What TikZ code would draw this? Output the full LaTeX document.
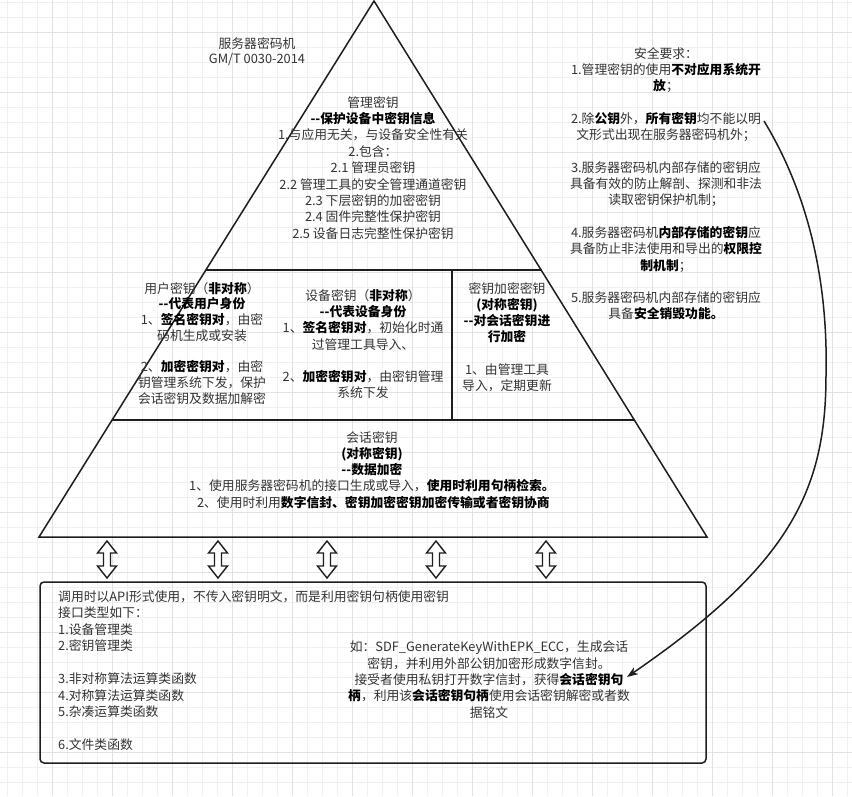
\documentclass[tikz,border=0pt]{standalone}
\usepackage{fontspec}
\setmainfont{Noto Sans CJK SC}
\usetikzlibrary{arrows.meta}
\definecolor{ln}{HTML}{1E1E1E}
\definecolor{tc}{HTML}{333333}
\definecolor{gmin}{HTML}{F0F0F0}
\definecolor{gmaj}{HTML}{E2E2E2}
\tikzset{
  txt/.style={font=\fontsize{12.8}{16.3}\selectfont, align=center, inner sep=0pt, text=tc, anchor=north},
  txtl/.style={font=\fontsize{12.8}{16.5}\selectfont, align=left, inner sep=0pt, text=tc, anchor=north west},
  edge/.style={draw=ln, line width=1.5pt, line join=miter},
  dbl/.style={draw=ln, line width=1.4pt, fill=white, line join=miter},
  gridminor/.style={draw=gmin, line width=0.8pt},
  gridmajor/.style={draw=gmaj, line width=1pt},
}
\newcommand{\B}[1]{\textbf{\color{black}#1}}
\begin{document}
\begin{tikzpicture}[x=1pt,y=-1pt]
\useasboundingbox (0,0) rectangle (852,796);
\fill[white] (0,0) rectangle (852,796);
% grid
\foreach \i in {0,...,56} {\draw[gridminor] ({7.5+15*\i},0) -- ({7.5+15*\i},796);}
\foreach \i in {0,...,53} {\draw[gridminor] (0,{2+15*\i}) -- (852,{2+15*\i});}
\foreach \i in {0,...,14} {\draw[gridmajor] ({52.5+60*\i},0) -- ({52.5+60*\i},796);}
\foreach \i in {0,...,13} {\draw[gridmajor] (0,{32+60*\i}) -- (852,{32+60*\i});}

% pyramid
\coordinate (apex) at (374,1);
\coordinate (bl) at (39,537);
\coordinate (br) at (707,537);
\draw[edge] (apex) -- (br) -- (bl) -- cycle;
\coordinate (l1) at (206,270);
\coordinate (r1) at (542,270);
\coordinate (l2) at (112,420);
\coordinate (r2) at (635,420);
\coordinate (vt) at (452,270);
\coordinate (vb) at (452,420);
\draw[edge] (l1) -- (r1);
\draw[edge] (l2) -- (r2);
\draw[edge] (vt) -- (vb);

% texts in pyramid
\node[txt, font=\fontsize{12.8}{15}\selectfont] (title) at (257,37.5) {服务器密码机\\GM/T 0030-2014};
\node[txt, font=\fontsize{12.8}{16.4}\selectfont] (mgmt) at (373,96) {管理密钥\\
\B{-{}-保护设备中密钥信息}\\
1.与应用无关，与设备安全性有关\\
2.包含：\\
2.1 管理员密钥\\
2.2 管理工具的安全管理通道密钥\\
2.3 下层密钥的加密密钥\\
2.4 固件完整性保护密钥\\
2.5 设备日志完整性保护密钥};

\node[txt, font=\fontsize{12.8}{15.7}\selectfont] (user) at (202,282) {用户密钥（\B{非对称}）\\
\B{-{}-代表用户身份}\\
1、\B{签名密钥对}，由密\\
码机生成或安装\\[15.7pt]
2、\B{加密密钥对}，由密\\
钥管理系统下发，保护\\
会话密钥及数据加解密};

\node[txt] (dev) at (363,289) {设备密钥（\B{非对称}）\\
\B{-{}-代表设备身份}\\
1、\B{签名密钥对}，初始化时通\\
过管理工具导入、\\[16.3pt]
2、\B{加密密钥对}，由密钥管理\\
系统下发};

\node[txt, font=\fontsize{12.8}{16.2}\selectfont] (kek) at (507,282) {密钥加密密钥\\
\B{(对称密钥)}\\
\B{-{}-对会话密钥进}\\
\B{行加密}\\[16.2pt]
1、由管理工具\\
导入，定期更新};

\node[txt] (sess) at (372,431) {会话密钥\\
\B{(对称密钥)}\\
\B{-{}-数据加密}\\
1、使用服务器密码机的接口生成或导入，\B{使用时利用句柄检索。}\\
\ 2、使用时利用\B{数字信封、密钥加密密钥加密传输或者密钥协商}};

% security requirements
\node[txt] (req) at (666,47) {安全要求：\\
1.管理密钥的使用\B{不对应用系统开}\\
\B{放}；\\[16.3pt]
2.除\B{公钥}外，\B{所有密钥}均不能以明\\
文形式出现在服务器密码机外；\\[16.3pt]
3.服务器密码机内部存储的密钥应\\
具备有效的防止解剖、探测和非法\\
读取密钥保护机制；\\[16.3pt]
4.服务器密码机\B{内部存储的密钥}应\\
具备防止非法使用和导出的\B{权限控}\\
\B{制机制}；\\[16.3pt]
5.服务器密码机内部存储的密钥应\\
具备\B{安全销毁功能。}};

% double arrows
\foreach \c/\n in {107/a1,218/a2,327/a3,436/a4,546/a5} {
  \draw[dbl] (\c,541) -- (\c+9.5,553) -- (\c+3.5,553) -- (\c+3.5,566) -- (\c+9.5,566)
    -- (\c,578) -- (\c-9.5,566) -- (\c-3.5,566) -- (\c-3.5,553) -- (\c-9.5,553) -- cycle;
  \coordinate (\n) at (\c,559.5);
}

% bottom box
\draw[edge, rounded corners=4pt] (40,582) rectangle (706,763);
\node[txtl] (api) at (58,590) {调用时以API形式使用，不传入密钥明文，而是利用密钥句柄使用密钥\\
接口类型如下：\\
1.设备管理类\\
2.密钥管理类\\[16.5pt]
3.非对称算法运算类函数\\
4.对称算法运算类函数\\
5.杂凑运算类函数\\[16.5pt]
6.文件类函数};

\node[txt] (ex) at (489,641) {如：SDF\_GenerateKeyWithEPK\_ECC，生成会话\\
密钥，并利用外部公钥加密形成数字信封。\\
接受者使用私钥打开数字信封，获得\B{会话密钥句}\\
\B{柄}，利用该\B{会话密钥句柄}使用会话密钥解密或者数\\
据铭文};

% curved connector
\coordinate (cs) at (764,121);
\coordinate (ce) at (627,677);
\draw[draw=ln, line width=1.5pt, -{Stealth[length=11pt,width=8pt,inset=3pt]}]
  (cs) .. controls (812,200) and (828,290) .. (826,375)
       .. controls (826,490) and (790,565) .. (ce);
\end{tikzpicture}
\end{document}
